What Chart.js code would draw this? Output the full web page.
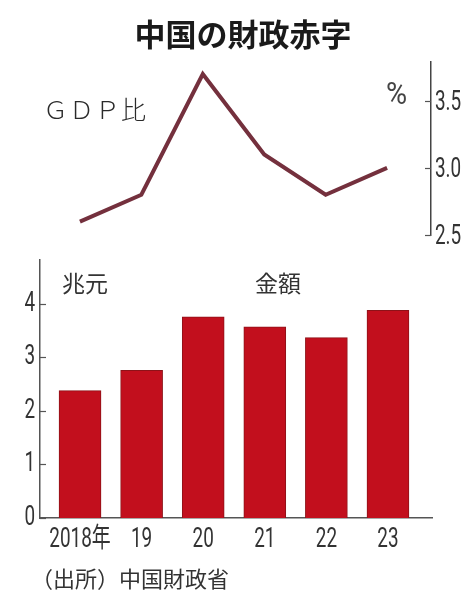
<!DOCTYPE html>
<html>
<head>
    <meta charset="utf-8">
    <title>中国の財政赤字</title>
    <script src="https://cdn.jsdelivr.net/npm/chart.js"></script>
    <style>
        body { margin: 0; background: #fff; }
        .wrap { position: relative; width: 466px; height: 595px; overflow: hidden;
                font-family: "Noto Sans CJK JP", sans-serif; color: #333; }
        .wrap canvas { position: absolute; left: 0; top: 0; }
        .txt { position: absolute; white-space: nowrap; line-height: 1; }
        #title { left: 0; width: 486px; top: 17px; text-align: center; font-size: 31px; font-weight: bold; color: #1a1a1a; }
        #gdp { left: 43px; top: 96px; font-size: 25px; font-weight: 300; letter-spacing: 1px; color: #2a2a2a; }
        #pct { left: 386px; top: 77px; font-size: 32px; font-family: Roboto, sans-serif; color: #444;
               transform: scaleX(0.9); transform-origin: left top; }
        #unit { left: 62px; top: 271px; font-size: 23px; color: #333; }
        #amount { left: 255px; top: 271px; font-size: 23px; color: #333; }
        #source { left: 31px; top: 566px; font-size: 22px; color: #333; }
    </style>
</head>
<body>
<div class="wrap">
    <canvas id="lineChart" width="466" height="595"></canvas>
    <canvas id="barChart" width="466" height="595"></canvas>
    <div class="txt" id="title">中国の財政赤字</div>
    <div class="txt" id="gdp">ＧＤＰ比</div>
    <div class="txt" id="pct">%</div>
    <div class="txt" id="unit">兆元</div>
    <div class="txt" id="amount">金額</div>
    <div class="txt" id="source">（出所）中国財政省</div>
</div>

<script>
    // データ
    const years = ['2018年', '19', '20', '21', '22', '23'];
    const gdpRatio = [2.6, 2.8, 3.7, 3.1, 2.8, 3.0];      // 財政赤字のGDP比（%）
    const deficit = [2.38, 2.76, 3.76, 3.57, 3.37, 3.88]; // 財政赤字額（兆元）
    const ratioTicks = [2.5, 3.0, 3.5];
    const amountTicks = [0, 1, 2, 3, 4];

    const numFont = '27px Roboto, "Noto Sans CJK JP", sans-serif';
    const squeeze = 0.7;   // 数字は縦長の書体に寄せる
    const xMin = -0.65, xMax = 5.715;

    // 軸の内側に短い目盛りを描く
    function innerTicks(scaleId, dir) {
        return {
            id: 'innerTicks_' + scaleId,
            afterDraw(chart) {
                const s = chart.scales[scaleId];
                const ctx = chart.ctx;
                const x0 = dir > 0 ? s.right : s.left;
                ctx.save();
                ctx.strokeStyle = '#555';
                ctx.lineWidth = 1.2;
                s.ticks.forEach(t => {
                    const y = Math.round(s.getPixelForValue(t.value)) + 0.5;
                    ctx.beginPath();
                    ctx.moveTo(x0, y);
                    ctx.lineTo(x0 + dir * 6, y);
                    ctx.stroke();
                });
                ctx.restore();
            }
        };
    }

    // 目盛りラベルを横に詰めて描く
    function narrowLabels(scaleId, text, place) {
        return {
            id: 'narrowLabels_' + scaleId,
            afterDraw(chart) {
                const s = chart.scales[scaleId];
                const ctx = chart.ctx;
                ctx.save();
                ctx.font = numFont;
                ctx.fillStyle = '#333';
                ctx.textBaseline = 'middle';
                ctx.scale(squeeze, 1);
                s.ticks.forEach(t => {
                    const p = s.getPixelForValue(t.value);
                    const pos = place(s, p);
                    ctx.textAlign = pos.align;
                    ctx.fillText(text(t.value), pos.x / squeeze, pos.y);
                });
                ctx.restore();
            }
        };
    }

    const points = (vals) => vals.map((v, i) => ({ x: i, y: v }));

    // GDP比の折れ線
    new Chart(document.getElementById('lineChart'), {
        type: 'line',
        data: {
            datasets: [{
                data: points(gdpRatio),
                borderColor: '#74303d',
                borderWidth: 4,
                pointRadius: 0,
                tension: 0,
                fill: false
            }]
        },
        options: {
            responsive: false,
            animation: false,
            events: [],
            layout: { padding: { left: 40, top: 62, bottom: 360, right: 0 } },
            plugins: { legend: { display: false }, tooltip: { enabled: false } },
            scales: {
                x: { type: 'linear', min: xMin, max: xMax, display: false },
                y: {
                    position: 'right',
                    min: 2.5, max: 3.79,
                    afterBuildTicks(axis) { axis.ticks = ratioTicks.map(v => ({ value: v })); },
                    afterFit(axis) { axis.width = 35; },
                    grid: { display: true, drawOnChartArea: false, drawTicks: false },
                    border: { display: true, color: '#444', width: 1.5 },
                    ticks: { display: false }
                }
            }
        },
        plugins: [
            innerTicks('y', -1),
            narrowLabels('y', v => v.toFixed(1), (s, p) => ({ x: s.left + 4, y: p + 2, align: 'left' }))
        ]
    });

    // 金額の棒グラフ
    new Chart(document.getElementById('barChart'), {
        type: 'bar',
        data: {
            datasets: [{
                data: points(deficit),
                backgroundColor: '#c20f1d',
                borderColor: '#8e1218',
                borderWidth: 1,
                borderSkipped: 'bottom',
                barThickness: 42
            }]
        },
        options: {
            responsive: false,
            animation: false,
            events: [],
            layout: { padding: { left: 0, top: 260, bottom: 0, right: 34 } },
            plugins: { legend: { display: false }, tooltip: { enabled: false } },
            scales: {
                x: {
                    type: 'linear', min: xMin, max: xMax,
                    offset: false,
                    afterBuildTicks(axis) { axis.ticks = years.map((_, i) => ({ value: i })); },
                    afterFit(axis) { axis.height = 77; },
                    grid: { display: false },
                    border: { display: true, color: '#555', width: 1.5 },
                    ticks: { display: false }
                },
                y: {
                    min: 0, max: 4.82,
                    afterBuildTicks(axis) { axis.ticks = amountTicks.map(v => ({ value: v })); },
                    afterFit(axis) { axis.width = 40; },
                    grid: { display: false, drawTicks: false },
                    border: { display: true, color: '#555', width: 1.5 },
                    ticks: { display: false }
                }
            }
        },
        plugins: [
            innerTicks('y', 1),
            narrowLabels('y', v => String(v), (s, p) => ({ x: s.right - 5, y: p, align: 'right' })),
            narrowLabels('x', v => years[v], (s, p) => ({ x: p, y: s.top + 22, align: 'center' }))
        ]
    });
</script>
</body>
</html>
